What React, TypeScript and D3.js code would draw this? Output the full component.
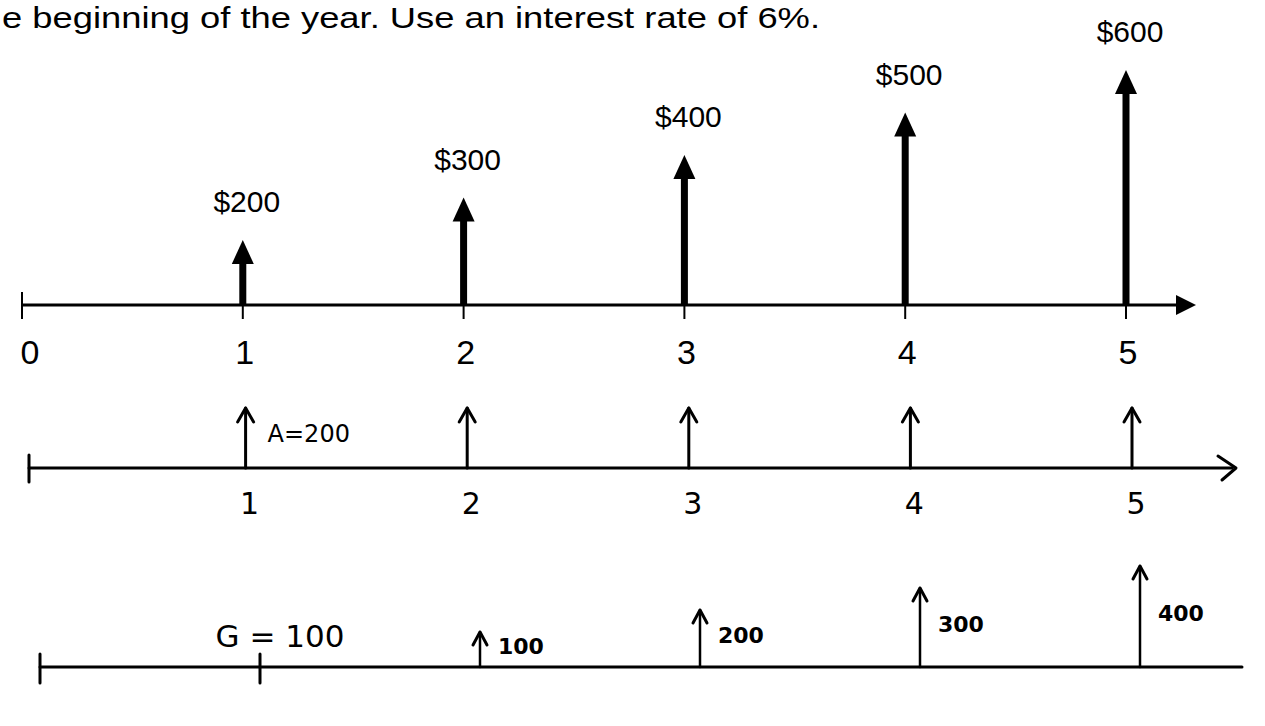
import React from "react";
import * as d3 from "d3";

const titleText = "e beginning of the year. Use an interest rate of 6%.";
const periods = [0, 1, 2, 3, 4, 5];
const flowPeriods = [1, 2, 3, 4, 5];
const flowValues = [200, 300, 400, 500, 600];
const annuityPeriods = [1, 2, 3, 4, 5];
const annuityValues = [200, 200, 200, 200, 200];
const annuityLabel = "A=200";
const gradientTicks = [0, 1];
const gradientPeriods = [2, 3, 4, 5];
const gradientValues = [100, 200, 300, 400];
const gradientLabel = "G = 100";

const W = 1265;
const H = 726;

export default function App() {
  // top (typed) diagram
  const xTop = d3.scaleLinear().domain([0, 5]).range([22, 1126]);
  const axisTopY = 305;
  const yTop = d3.scaleLinear().domain([0, 600]).range([325, 70]);

  // middle (handwritten) diagram
  const xMid = d3.scaleLinear().domain([0, 5]).range([24, 1132]);
  const axisMidY = 468;
  const yMid = d3.scaleLinear().domain([0, 200]).range([axisMidY, 408]);

  // bottom (handwritten) diagram
  const xBot = d3.scaleLinear().domain([0, 5]).range([40, 1140]);
  const axisBotY = 667;
  const yBot = d3.scaleLinear().domain([0, 400]).range([654, 566]);

  const hand = "'DejaVu Sans', sans-serif";
  const sans = "'Liberation Sans', Arial, sans-serif";

  const headW = 11;
  const headH = 24;

  return (
    <svg
      width={W}
      height={H}
      viewBox={`0 0 ${W} ${H}`}
      style={{ position: "absolute", left: 0, top: 0, background: "#fff" }}
    >
      <rect x={0} y={0} width={W} height={H} fill="#fff" />
      <text
        x={2}
        y={28}
        fontFamily={sans}
        fontSize={30}
        textLength={818}
        lengthAdjust="spacingAndGlyphs"
        fill="#000"
      >
        {titleText}
      </text>

      {/* ---------- top diagram ---------- */}
      <line x1={xTop(0)} x2={1180} y1={axisTopY} y2={axisTopY} stroke="#000" strokeWidth={3} />
      <path
        d={`M${1196},${axisTopY} L${1176},${axisTopY - 10} L${1176},${axisTopY + 10} Z`}
        fill="#000"
      />
      {periods.map((p) => (
        <g key={`tt${p}`}>
          <line
            x1={xTop(p)}
            x2={xTop(p)}
            y1={p === 0 ? axisTopY - 13 : axisTopY}
            y2={axisTopY + 14}
            stroke="#000"
            strokeWidth={2}
          />
          <text
            x={xTop(p) + (p === 0 ? 8 : 2)}
            y={364}
            textAnchor="middle"
            fontFamily={sans}
            fontSize={34}
            fill="#000"
          >
            {p}
          </text>
        </g>
      ))}
      {flowPeriods.map((p, i) => {
        const x = xTop(p);
        const tip = yTop(flowValues[i]);
        return (
          <g key={`fa${p}`}>
            <line x1={x} x2={x} y1={axisTopY} y2={tip + headH - 2} stroke="#000" strokeWidth={7} />
            <path
              d={`M${x},${tip} L${x - headW},${tip + headH} L${x + headW},${tip + headH} Z`}
              fill="#000"
            />
            <text
              x={x + 4}
              y={tip - 28}
              textAnchor="middle"
              fontFamily={sans}
              fontSize={30}
              fill="#000"
            >
              {`$${flowValues[i]}`}
            </text>
          </g>
        );
      })}

      {/* ---------- middle diagram ---------- */}
      <line x1={xMid(0) + 5} x2={1232} y1={axisMidY} y2={axisMidY} stroke="#000" strokeWidth={3} strokeLinecap="round" />
      <path
        d={`M1218,${axisMidY - 12} L1236,${axisMidY} L1222,${axisMidY + 12}`}
        fill="none"
        stroke="#000"
        strokeWidth={3}
        strokeLinecap="round"
        strokeLinejoin="round"
      />
      <line x1={xMid(0) + 5} x2={xMid(0) + 5} y1={axisMidY - 13} y2={axisMidY + 14} stroke="#000" strokeWidth={3} strokeLinecap="round" />
      {annuityPeriods.map((p, i) => {
        const x = xMid(p);
        const tip = yMid(annuityValues[i]);
        return (
          <g key={`ma${p}`}>
            <line x1={x} x2={x} y1={axisMidY} y2={tip} stroke="#000" strokeWidth={3} strokeLinecap="round" />
            <path
              d={`M${x - 8},${tip + 14} L${x},${tip} L${x + 8},${tip + 14}`}
              fill="none"
              stroke="#000"
              strokeWidth={3}
              strokeLinecap="round"
              strokeLinejoin="round"
            />
            <text
              x={x + 4}
              y={514}
              textAnchor="middle"
              fontFamily={hand}
              fontSize={30}
              fill="#000"
            >
              {p}
            </text>
          </g>
        );
      })}
      <text
        x={xMid(1) + 22}
        y={442}
        fontFamily={hand}
        fontSize={24}
        fill="#000"
      >
        {annuityLabel}
      </text>

      {/* ---------- bottom diagram ---------- */}
      <line x1={xBot(0)} x2={1242} y1={axisBotY} y2={axisBotY} stroke="#000" strokeWidth={3} strokeLinecap="round" />
      {gradientTicks.map((p) => (
        <line
          key={`bt${p}`}
          x1={xBot(p)}
          x2={xBot(p)}
          y1={axisBotY - 13}
          y2={axisBotY + 16}
          stroke="#000"
          strokeWidth={3}
          strokeLinecap="round"
        />
      ))}
      <text x={(xBot(0) + xBot(1)) / 2 + 130} y={647} textAnchor="middle" fontFamily={hand} fontSize={31} fill="#000">
        {gradientLabel}
      </text>
      {gradientPeriods.map((p, i) => {
        const x = xBot(p);
        const tip = yBot(gradientValues[i]);
        const mid = (tip + axisBotY) / 2;
        return (
          <g key={`ga${p}`}>
            <line x1={x} x2={x} y1={axisBotY} y2={tip} stroke="#000" strokeWidth={2.5} strokeLinecap="round" />
            <path
              d={`M${x - 7},${tip + 13} L${x},${tip} L${x + 7},${tip + 13}`}
              fill="none"
              stroke="#000"
              strokeWidth={3}
              strokeLinecap="round"
              strokeLinejoin="round"
            />
            <text x={x + 18} y={mid + 4} fontFamily={hand} fontSize={22} fontWeight="bold" fill="#000">
              {gradientValues[i]}
            </text>
          </g>
        );
      })}
    </svg>
  );
}
